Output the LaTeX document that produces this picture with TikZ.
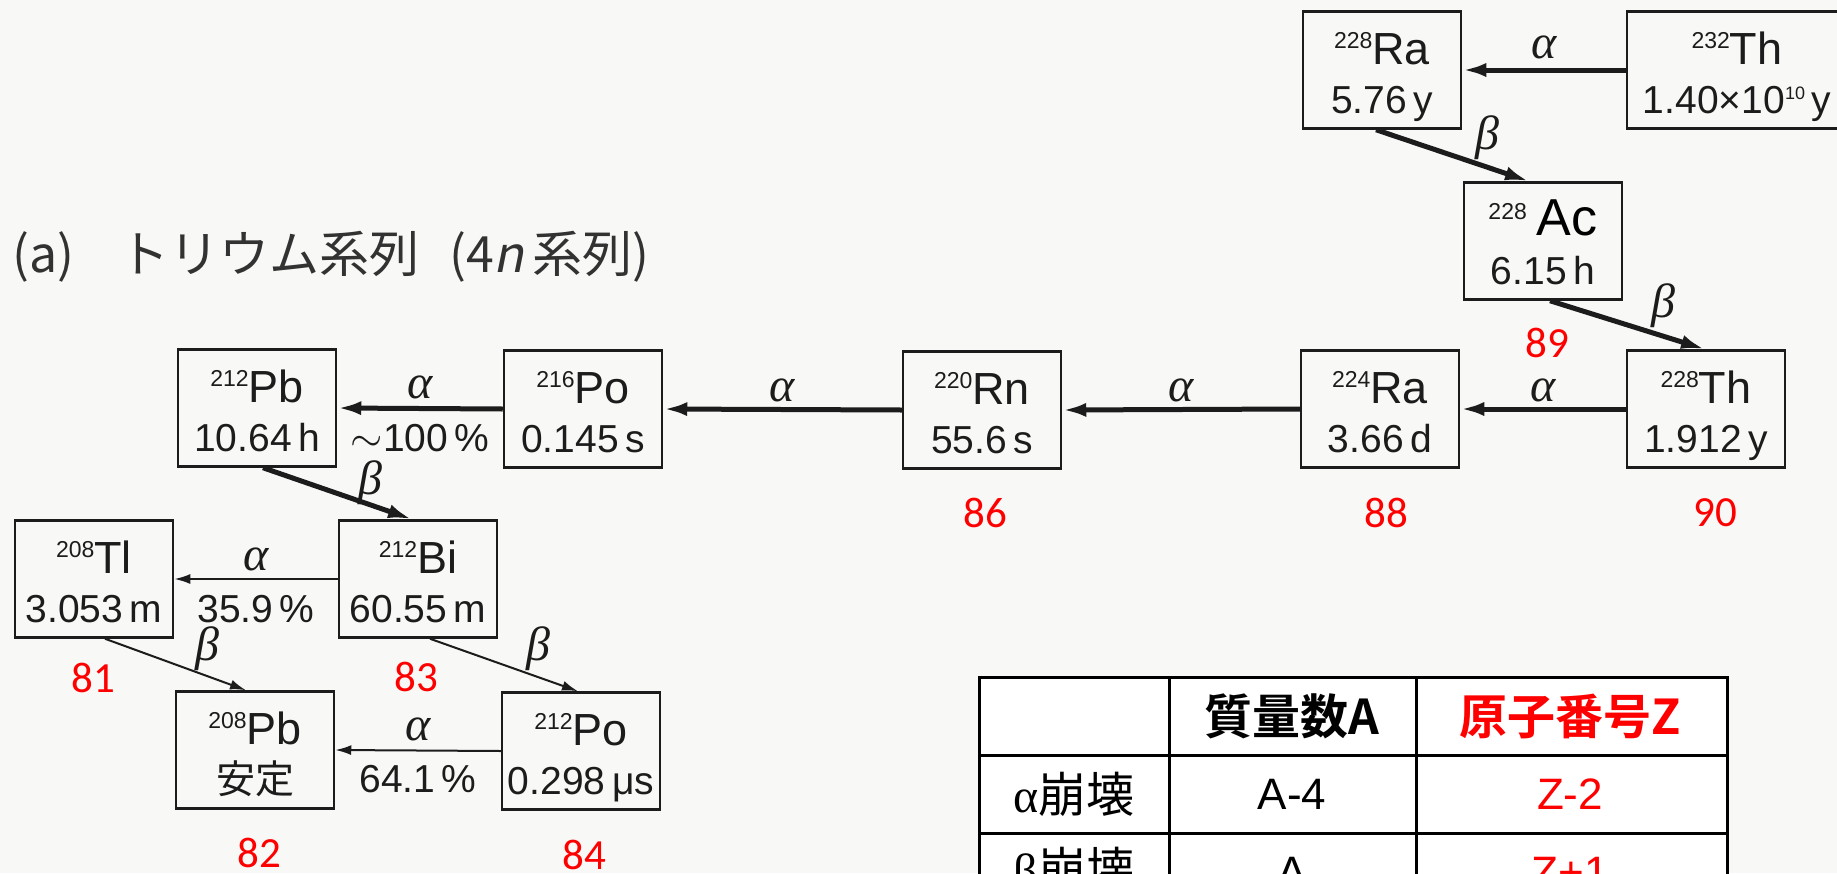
\documentclass[tikz,border=0pt]{standalone}
\usepackage{fontspec}
\usetikzlibrary{arrows.meta,calc}
\setmainfont{Liberation Sans}
\newfontfamily\jpfont{Noto Sans CJK JP}
\newfontfamily\jpbold{Noto Sans CJK JP Bold}
\newfontfamily\jpslant[FakeSlant=0.2]{Noto Sans CJK JP}
\newfontfamily\numfont{Carlito}
\newfontfamily\greekserif{Liberation Serif}

\newcommand{\fs}[1]{\fontsize{#1}{#1}\selectfont}
\newcommand{\nuc}[2]{\raisebox{7.8pt}{\fs{11.5}#1}#2}

\definecolor{bg}{RGB}{248,248,246}
\definecolor{ink}{RGB}{28,28,28}
\definecolor{titlegray}{RGB}{50,50,50}

\tikzset{
 nbox/.style={draw=ink, line width=1.25pt, minimum width=79pt, minimum height=58.5pt, inner sep=0pt},
 ltop/.style={anchor=base, inner sep=0pt, font=\fs{22.5}, text=ink},
 lbot/.style={anchor=base, inner sep=0pt, font=\fs{19.5}, text=ink},
 thickarr/.style={draw=ink, line width=2.5pt, -{Latex[length=12pt,width=7pt]}},
 thinarr/.style={draw=ink, line width=1pt, -{Latex[length=8pt,width=5pt]}},
 dl/.style={font=\greekserif\itshape\fs{24}, text=ink, inner sep=0pt},
 pct/.style={font=\fs{19.5}, text=ink, inner sep=0pt},
 rednum/.style={font=\numfont\fs{21.5}, text=red, inner sep=0pt},
 tcell/.style={inner sep=0pt, text=black},
}

\newcommand{\nucbox}[6][]{%
 \node[nbox,#1] (#2) at (#3,#4) {};
 \node[ltop] (#2-a) at ([yshift=2.75pt]#2.center) {#5};
 \node[lbot] (#2-b) at ([yshift=-21.75pt]#2.center) {#6};
}

\begin{document}
\begin{tikzpicture}[x=0.5pt,y=-0.5pt]
\useasboundingbox (0,0) rectangle (1837,873);
\clip (0,0) rectangle (1837,873);
\fill[bg] (0,0) rectangle (1837,873);

% title
\node[anchor=west, inner sep=0pt, text=titlegray, font=\jpfont\fs{25}] (title) at (12,257)
 {(a)\hspace{0.9em}トリウム系列\hspace{0.6em}(4{\jpslant n}\,系列)};

% boxes
\nucbox{Ra228}{1382}{70}{\nuc{228}{Ra}}{5.76\,y}
\nucbox[minimum width=110pt]{Th232}{1737}{70}{\nuc{232}{Th}}{1.40×10\raisebox{7pt}{\fs{9}10}\,y}
\node[nbox] (Ac228) at (1543,241) {};
\node[ltop] (Ac228-a) at ([yshift=2.75pt]Ac228.center) {\raisebox{7.8pt}{\fs{11.5}228}\hspace{5pt}{\color{black}\fs{26}Ac}};
\node[lbot] (Ac228-b) at ([yshift=-21.75pt]Ac228.center) {6.15\,h};
\nucbox{Th228}{1706}{409}{\nuc{228}{Th}}{1.912\,y}
\nucbox{Ra224}{1380}{409}{\nuc{224}{Ra}}{3.66\,d}
\nucbox{Rn220}{982}{410}{\nuc{220}{Rn}}{55.6\,s}
\nucbox{Po216}{583}{409}{\nuc{216}{Po}}{0.145\,s}
\nucbox{Pb212}{257}{408}{\nuc{212}{Pb}}{10.64\,h}
\nucbox{Bi212}{418}{579}{\nuc{212}{Bi}}{60.55\,m}
\nucbox{Tl208}{94}{579}{\nuc{208}{Tl}}{3.053\,m}
\nucbox{Pb208}{255}{750}{\nuc{208}{Pb}}{{\jpfont 安定}}
\nucbox{Po212}{581}{751}{\nuc{212}{Po}}{0.298\,μs}

% arrows
\draw[thickarr] (Th232.west) -- node[dl, yshift=11.5pt]{α} (Ra228.east);
\draw[thickarr] ([xshift=-3pt]Ra228.south) -- node[dl, pos=0.73, yshift=15pt]{β} ([xshift=-7pt]Ac228.north);
\draw[thickarr] ([xshift=3.5pt]Ac228.south) -- node[dl, pos=0.73, yshift=15pt]{β} ([xshift=-0.5pt]Th228.north);
\draw[thickarr] (Th228.west) -- node[dl, yshift=9.5pt]{α} (Ra224.east);
\draw[thickarr] (Ra224.west) -- node[dl, yshift=9.5pt]{α} (Rn220.east);
\draw[thickarr] (Rn220.west) -- node[dl, yshift=9.5pt]{α} (Po216.east);
\draw[thickarr] (Po216.west) -- node[dl, yshift=10.5pt]{α} node[pct, yshift=-15pt]{$\sim$100\,\%} (Pb212.east);
\draw[thickarr] ([xshift=3pt]Pb212.south) -- node[dl, pos=0.72, yshift=11pt]{β} ([xshift=-3pt]Bi212.north);
\draw[thinarr] (Bi212.west) -- node[dl, yshift=10pt]{α} node[pct, yshift=-15pt]{35.9\,\%} (Tl208.east);
\draw[thinarr] ([xshift=5.5pt]Tl208.south) -- node[dl, pos=0.73, yshift=14pt]{β} ([xshift=-4.5pt]Pb208.north);
\draw[thinarr] ([xshift=6pt]Bi212.south) -- node[dl, pos=0.73, yshift=14pt]{β} ([xshift=-1.5pt]Po212.north);
\draw[thinarr] (Po212.west) -- node[dl, yshift=10.5pt]{α} node[pct, yshift=-14.5pt]{64.1\,\%} (Pb208.east);

% red atomic numbers
\node[rednum] (z89) at (1547,343) {89};
\node[rednum] (z86) at (985,513) {86};
\node[rednum] (z88) at (1386,513) {88};
\node[rednum] (z90) at (1715,513) {90};
\node[rednum] (z81) at (93,678) {81};
\node[rednum] (z83) at (416,677) {83};
\node[rednum] (z82) at (259,853) {82};
\node[rednum] (z84) at (584,855) {84};

% table
\fill[white] (979,677) rectangle (1727,911);
\draw[line width=1.5pt, black] (979,677) rectangle (1727,911);
\draw[line width=1.5pt, black] (979,755) -- (1727,755);
\draw[line width=1.5pt, black] (979,833) -- (1727,833);
\draw[line width=1.5pt, black] (1169,677) -- (1169,911);
\draw[line width=1.5pt, black] (1416,677) -- (1416,911);
\node[tcell, font=\jpbold\fs{24}] (h2) at (1292,716) {質量数A};
\node[tcell, font=\jpbold\fs{24}, text=red] (h3) at (1570,716) {原子番号Z};
\node[tcell, font=\jpfont\fs{24}] (r1a) at (1074,794) {{\greekserif α}崩壊};
\node[tcell, font=\fs{22}] (r1b) at (1292,794) {A-4};
\node[tcell, font=\fs{22}, text=red] (r1c) at (1570,794) {Z-2};
\node[tcell, font=\jpfont\fs{24}] (r2a) at (1074,872) {{\greekserif β}崩壊};
\node[tcell, font=\fs{22}] (r2b) at (1292,872) {A};
\node[tcell, font=\fs{22}, text=red] (r2c) at (1570,872) {Z+1};
\end{tikzpicture}
\end{document}
